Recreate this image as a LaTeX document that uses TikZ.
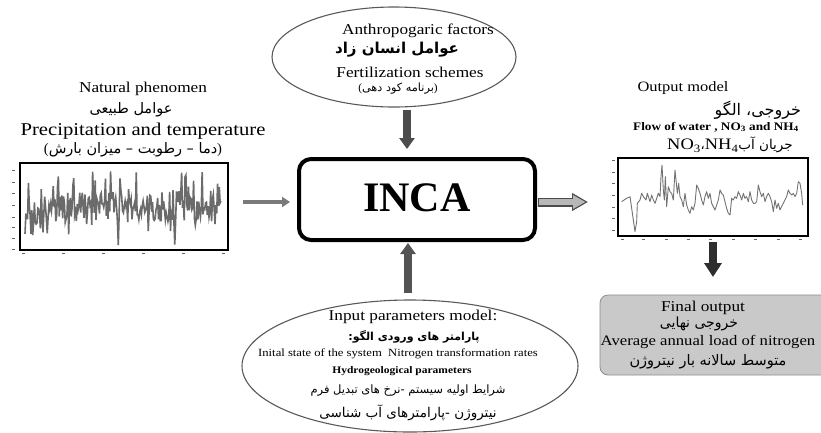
\documentclass[tikz,border=0pt]{standalone}
\usepackage{fontspec}
\setmainfont{Liberation Serif}[FakeStretch=1.15]
\newfontfamily\plainserif{Liberation Serif}
\newfontfamily\fa[Script=Arabic]{DejaVu Sans}
\usetikzlibrary{shapes.geometric,arrows.meta,calc}
\TeXXeTstate=1
\newcommand\fsz[1]{\fontsize{#1}{#1}\selectfont}
\newcommand\rtl[1]{\beginR #1\endR}
\newcommand\lpar{{\plainserif(}}
\newcommand\rpar{{\plainserif)}}

\begin{document}
\begin{tikzpicture}[x=1pt,y=-1pt,
  txt/.style={inner sep=0pt,outer sep=0pt,anchor=center},
  oval/.style={ellipse,draw=black!65,line width=1.1pt,inner sep=0pt,outer sep=0pt},
  chart/.style={draw=black,line width=1.1pt,inner sep=0pt,outer sep=0pt},
  tick/.style={draw=black!60,line width=0.8pt},
  series/.style={draw=black!58,line width=1.6pt,line join=miter},
  thinseries/.style={draw=black!55,line width=0.9pt,line join=round}]
\useasboundingbox (0,0) rectangle (821,432);
\clip (0,0) rectangle (821,432);

% model block
\node[draw=black,line width=4pt,rounded corners=12pt,minimum width=236pt,minimum height=81pt,
      inner sep=0pt,outer sep=0pt] (inca) at (417,199.5) {};
\node[txt,font=\plainserif\bfseries\fsz{42}] (incatext) at (417,198) {INCA};

% anthropogenic factors
\node[oval,minimum width=244pt,minimum height=100pt] (anth) at (394,57) {};
\node[txt,font=\fsz{15}] (anth1) at (418,31) {Anthropogaric factors};
\node[txt,font=\fa\bfseries\fsz{15}] (anth2) at (397,50) {\rtl{عوامل انسان زاد}};
\node[txt,font=\fsz{15}] (anth3) at (410,72) {Fertilization schemes};
\node[txt,font=\fa\fsz{11.3}] (anth4) at (398,89) {\lpar\rtl{برنامه کود دهی}\rpar};

% input parameters
\node[oval,minimum width=336pt,minimum height=132pt] (inputs) at (410,366) {};
\node[txt,font=\fsz{15}] (in1) at (413,317) {Input parameters model:};
\node[txt,font=\fa\bfseries\fsz{11}] (in2) at (414,337) {\rtl{پارامتر های ورودی الگو:}};
\node[txt,font=\fsz{11}] (in3) at (398,354) {Inital state of the system\ \ Nitrogen transformation rates};
\node[txt,font=\bfseries\fsz{10}] (in4) at (402,371) {Hydrogeological parameters};
\node[txt,font=\fa\fsz{11.5}] (in5) at (408,391) {\rtl{شرایط اولیه سیستم -نرخ های تبدیل فرم}};
\node[txt,font=\fa\fsz{13.5}] (in6) at (408,413) {\rtl{نیتروژن -پارامترهای آب شناسی}};

% natural phenomena
\node[txt,font=\fsz{15}] (nat1) at (143,89) {Natural phenomen};
\node[txt,font=\fa\fsz{14.5}] (nat2) at (131,110) {\rtl{عوامل طبیعی}};
\node[txt,font=\fsz{18}] (nat3) at (143,131) {Precipitation and temperature};
\node[txt,font=\fa\fsz{14.5}] (nat4) at (133,150) {\lpar\rtl{دما – رطوبت – میزان بارش}\rpar};

% input series chart
\node[chart,minimum width=208pt,minimum height=87pt] (inchart) at (124,206.5) {};
\foreach \yy in {170,182,193,205,217,227,238,249} \draw[tick] (12,\yy) -- (15,\yy);
\foreach \xx in {23,63,103,143,183,223} \draw[tick] (\xx-1.5,253) -- (\xx+1.5,253);
\pgfmathsetseed{20}
\draw[series] plot[domain=25:221,samples=230,variable=\t]
  (\t,{max(169,min(245,207+16*rand+32*rand*rnd))});

% output model
\node[txt,font=\fsz{14.3}] (out1) at (683,88) {Output model};
\node[txt,font=\fa\fsz{16},anchor=east] (out2) at (801,110) {\rtl{خروجی، الگو}};
\node[txt,font=\bfseries\fsz{11.5}] (out3) at (716,127)
  {Flow of water , NO\textsubscript{3} and NH\textsubscript{4}};
\node[txt,font=\fsz{16}] (out4) at (730,145)
  {\beginR{\fa\fsz{13.5}جریان آب}\beginL NH\textsubscript{4}\endL{\fa\fsz{13}،}\beginL NO\textsubscript{3}\endL\endR};

% output series chart
\node[chart,minimum width=190pt,minimum height=78pt] (outchart) at (713,197) {};
\foreach \yy in {160,172,183,195,207,218,230} \draw[tick] (612,\yy) -- (615,\yy);
\foreach \xx in {622,643,666,688,710,733,755,778,800} \draw[tick] (\xx-1.5,239.5) -- (\xx+1.5,239.5);
\begin{scope}[shift={(600,150)},x=0.3333pt,y=-0.3333pt]
\draw[thinseries] (65,155) -- (80,145) -- (90,140) -- (95,175) -- (100,210) -- (105,245)
  -- (110,215) -- (112,160) -- (120,150) -- (125,130) -- (130,140) -- (138,150) -- (142,130)
  -- (150,155) -- (155,135) -- (160,150) -- (165,160) -- (170,145) -- (175,130) -- (180,140)
  -- (183,80) -- (186,45) -- (190,120) -- (193,150) -- (196,80) -- (200,170) -- (205,110)
  -- (210,125) -- (215,130) -- (220,150) -- (225,60) -- (228,90) -- (232,130) -- (236,100)
  -- (240,140) -- (245,150) -- (250,170) -- (255,130) -- (260,165) -- (265,180) -- (270,190)
  -- (275,170) -- (280,180) -- (285,160) -- (290,105) -- (295,115) -- (300,130) -- (305,150)
  -- (310,165) -- (315,140) -- (320,125) -- (325,145) -- (330,130) -- (335,160) -- (340,170)
  -- (345,180) -- (350,165) -- (355,150) -- (360,120) -- (365,130) -- (370,135) -- (375,155)
  -- (380,175) -- (385,190) -- (390,195) -- (395,145) -- (400,150) -- (405,140) -- (410,145)
  -- (415,125) -- (420,135) -- (425,150) -- (430,130) -- (435,145) -- (440,140) -- (445,155)
  -- (450,125) -- (455,150) -- (460,160) -- (465,160) -- (470,155) -- (475,105) -- (480,125)
  -- (485,140) -- (490,130) -- (495,155) -- (500,140) -- (505,130) -- (510,140) -- (515,155)
  -- (520,185) -- (525,150) -- (530,175) -- (535,160) -- (540,180) -- (545,170) -- (550,160)
  -- (555,150) -- (560,140) -- (565,120) -- (570,130) -- (575,135) -- (580,130) -- (585,140)
  -- (590,130) -- (595,95) -- (600,100) -- (605,130) -- (608,165);
\end{scope}

% final output
\node[draw=black!45,fill=black!21,rounded corners=8pt,line width=0.8pt,minimum width=230pt,
      minimum height=80pt,inner sep=0pt,outer sep=0pt] (final) at (715,335) {};
\node[txt,font=\fsz{15}] (fin1) at (703,308) {Final output};
\node[txt,font=\fa\fsz{14}] (fin2) at (699,324) {\rtl{خروجی نهایی}};
\node[txt,font=\fsz{14.5}] (fin3) at (708,342) {Average annual load of nitrogen};
\node[txt,font=\fa\fsz{14.5}] (fin4) at (708,362) {\rtl{متوسط سالانه بار نیتروژن}};

% connectors
\draw[line width=8pt,draw=black!70,-{Triangle[width=15pt,length=11pt]},shorten <=3pt,shorten >=10pt]
  ([xshift=13pt]anth.south) -- ([xshift=-10pt]inca.north);
\draw[line width=8pt,draw=black!67,-{Triangle[width=15pt,length=11pt]},shorten <=7pt,shorten >=3pt]
  ([xshift=-2pt]inputs.north) -- ([xshift=-9pt]inca.south);
\draw[line width=4pt,draw=black!52,-{Triangle[width=10pt,length=8pt]},shorten <=15pt,shorten >=9pt]
  ([yshift=4.5pt]inchart.east) -- ([yshift=-2.5pt]inca.west);
\draw[line width=9pt,draw=black!70,-{Triangle[width=17pt,length=16pt]},shorten <=3pt,shorten >=30pt]
  ([yshift=-2.5pt]inca.east) -- ([yshift=-5pt]outchart.west);
\draw[line width=6.6pt,draw=black!28,-{Triangle[width=13pt,length=12.5pt]},shorten <=4.2pt,shorten >=32.5pt]
  ([yshift=-2.5pt]inca.east) -- ([yshift=-5pt]outchart.west);
\draw[line width=8pt,draw=black!82,-{Triangle[width=17pt,length=14pt]},shorten <=6pt,shorten >=18pt]
  (outchart.south) -- ([xshift=-2pt]final.north);
\end{tikzpicture}
\end{document}
